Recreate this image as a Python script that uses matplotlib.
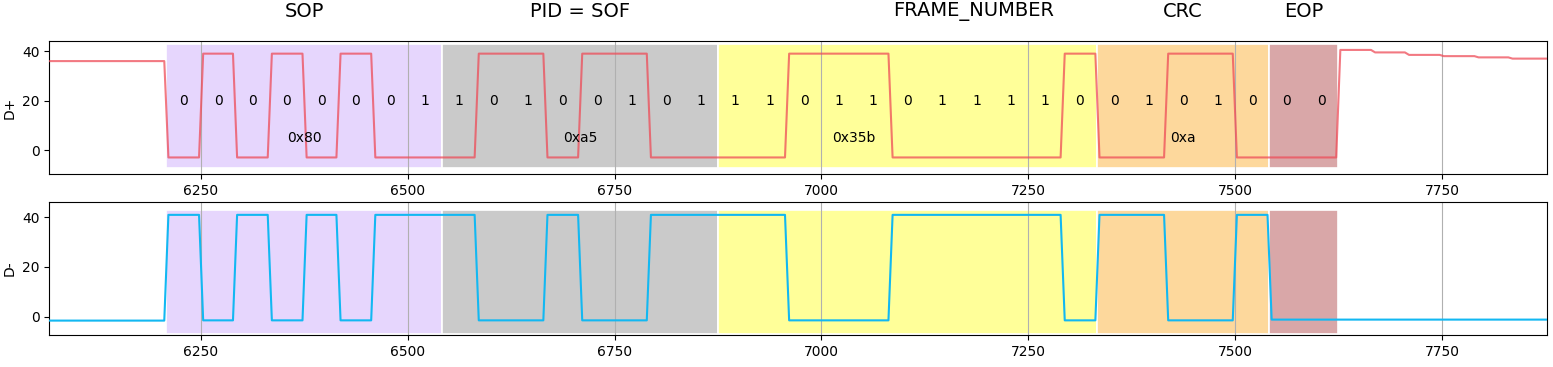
import numpy as np
import matplotlib
matplotlib.use("Agg")
import matplotlib.pyplot as plt

# packet fields, as decoded
fields = ["SOP", "PID = SOF", "FRAME_NUMBER", "CRC", "EOP"]
field_bits = [
    [0, 0, 0, 0, 0, 0, 0, 1],
    [1, 0, 1, 0, 0, 1, 0, 1],
    [1, 1, 0, 1, 1, 0, 1, 1, 1, 1, 0],
    [0, 1, 0, 1, 0],
    [0, 0],
]
field_hex = ["0x80", "0xa5", "0x35b", "0xa", ""]
field_colors = ["#e6d6fd", "#cacaca", "#ffff99", "#fdd89c", "#d9a7a8"]

# line state of every bit (J / K / SE0), as seen on the bus
line_states = ("KJKJKJKK" "KJJKJJKK" "KKJJJKKKKKJ" "KKJJK" "00")

# sampling: sample index range and bit timing
sample_first, sample_last = 6067, 7877
bit_start = 6208.5
bit_period = 41.65

# levels
dp_level = {"J": 39.0, "K": -2.8, "0": -2.8}
dm_level = {"J": -1.5, "K": 41.0, "0": -1.2}
dp_idle_before = 36.0
dm_idle_before = -1.6
# D+ after EOP, one value per bit period
dp_idle_after = [40.5, 39.5, 38.5, 38.0, 37.5, 37.0, 37.0, 36.5, 36.5, 36.0, 36.0, 36.0, 36.0, 36.0, 36.0]
dm_idle_after = -1.2

samples = np.arange(sample_first, sample_last + 1)
bit_no = np.floor((samples - bit_start) / bit_period).astype(int)
n_bits = len(line_states)

dp = np.empty(len(samples))
dm = np.empty(len(samples))
for i, b in enumerate(bit_no):
    if b < 0:
        dp[i], dm[i] = dp_idle_before, dm_idle_before
    elif b < n_bits:
        dp[i], dm[i] = dp_level[line_states[b]], dm_level[line_states[b]]
    else:
        dp[i] = dp_idle_after[min(b - n_bits, len(dp_idle_after) - 1)]
        dm[i] = dm_idle_after

# finite rise time of the transceiver
k = np.ones(5) / 5
dp = np.convolve(np.pad(dp, 2, mode="edge"), k, mode="valid")
dm = np.convolve(np.pad(dm, 2, mode="edge"), k, mode="valid")

fig = plt.figure(figsize=(15.53, 3.67), dpi=100)
ax1 = fig.add_axes([0.0317, 0.5253, 0.9646, 0.3637])
ax2 = fig.add_axes([0.0317, 0.0872, 0.9646, 0.3632])

counts = [len(b) for b in field_bits]
edges = bit_start + bit_period * np.concatenate([[0], np.cumsum(counts)])
title_shift = [0, 0, 80, 0, 0]
hex_shift = [0, 0, -65, 0, 0]

for ax in (ax1, ax2):
    for j in range(len(fields)):
        ax.fill_between([edges[j], edges[j + 1]], -7, 43, color=field_colors[j],
                        edgecolor="white", linewidth=1.2, zorder=1)
    ax.grid(axis="x", color="#b0b0b0", linewidth=0.8)
    ax.set_xlim(sample_first, sample_last)
    ax.set_xticks(np.arange(6250, 7751, 250))
    ax.set_yticks([0, 20, 40])

ax1.plot(samples, dp, color="#ee4c58", alpha=0.75, linewidth=1.5, zorder=3)
ax2.plot(samples, dm, color="#12b8f2", linewidth=1.5, zorder=3)
ax1.set_ylim(-9.55, 44.2)
ax2.set_ylim(-7.4, 46.3)
ax1.set_ylabel("D+")
ax2.set_ylabel("D-")

bit_list = [b for bits in field_bits for b in bits]
for i, b in enumerate(bit_list):
    ax1.text(bit_start + (i + 0.5) * bit_period, 20, str(b), ha="center", va="center", fontsize=10)

for j in range(len(fields)):
    mid = (edges[j] + edges[j + 1]) / 2
    if field_hex[j]:
        ax1.text(mid + hex_shift[j], 5, field_hex[j], ha="center", va="center", fontsize=10)
    ax1.text(mid + title_shift[j], 55.8, fields[j], ha="center", va="center",
             fontsize=14, clip_on=False)

fig.savefig("out.png", dpi=100)
